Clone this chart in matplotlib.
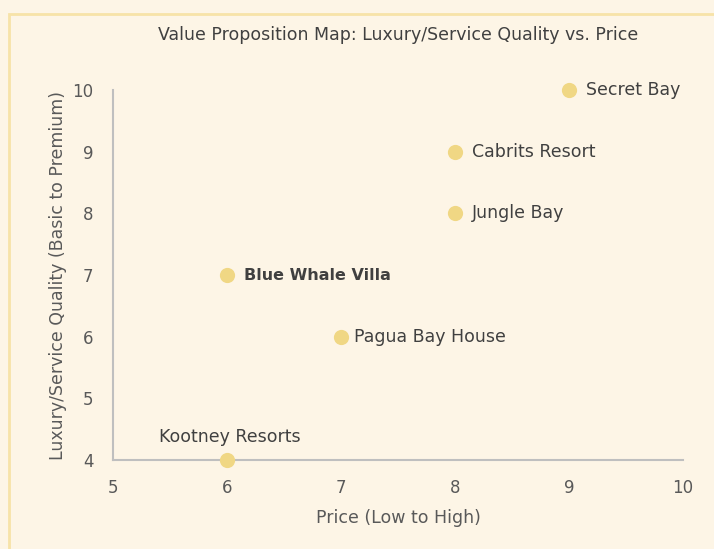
import matplotlib
matplotlib.use("Agg")
import matplotlib.pyplot as plt
from matplotlib.patches import Rectangle

names = ["Secret Bay", "Cabrits Resort", "Jungle Bay", "Blue Whale Villa", "Pagua Bay House", "Kootney Resorts"]
price = [9, 8, 8, 6, 7, 6]
quality = [10, 9, 8, 7, 6, 4]
x_ticks = [5, 6, 7, 8, 9, 10]
y_ticks = [4, 5, 6, 7, 8, 9, 10]

plt.rcParams['font.family'] = ['DejaVu Sans']

bg = '#FDF5E6'
fig = plt.figure(figsize=(7.14, 5.49), dpi=100, facecolor=bg)
fig.patches.append(Rectangle((9/714, -0.1), 1.2, 1 - 14/549 + 0.1, transform=fig.transFigure,
                             facecolor='none', edgecolor='#F7E3A8', linewidth=2, zorder=0))

ax = fig.add_axes([113/714, 1 - 460/549, 570/714, 370/549])
ax.set_facecolor(bg)
ax.set_xlim(5, 10)
ax.set_ylim(4, 10)
ax.set_xticks(x_ticks)
ax.set_yticks(y_ticks)
for s in ['top', 'right']:
    ax.spines[s].set_visible(False)
for s in ['left', 'bottom']:
    ax.spines[s].set_color('#BFBFBF')
    ax.spines[s].set_linewidth(1.5)
ax.tick_params(length=0, labelsize=12, labelcolor='#595959', pad=14)

ax.scatter(price, quality, s=120, color='#F0D784', zorder=3, clip_on=False, linewidths=0)

for n, x, y in zip(names, price, quality):
    if n == "Kootney Resorts":
        ax.annotate(n, (x, y), xytext=(2, 10), textcoords='offset points', ha='center', va='bottom',
                    fontsize=12.5, color='#404040')
    elif n == "Blue Whale Villa":
        ax.annotate(n, (x, y), xytext=(12, 0), textcoords='offset points', ha='left', va='center',
                    fontsize=11.5, color='#404040', fontweight='bold')
    else:
        off = 9.5 if n == "Pagua Bay House" else 12
        ax.annotate(n, (x, y), xytext=(off, 0), textcoords='offset points', ha='left', va='center',
                    fontsize=12.5, color='#404040')

ax.set_title("Value Proposition Map: Luxury/Service Quality vs. Price", fontsize=12.5, color='#404040', pad=36)
ax.set_xlabel("Price (Low to High)", fontsize=12.5, color='#595959', labelpad=8)
ax.set_ylabel("Luxury/Service Quality (Basic to Premium)", fontsize=12.5, color='#595959', labelpad=4)

fig.savefig("out.png", dpi=100, facecolor=bg)
